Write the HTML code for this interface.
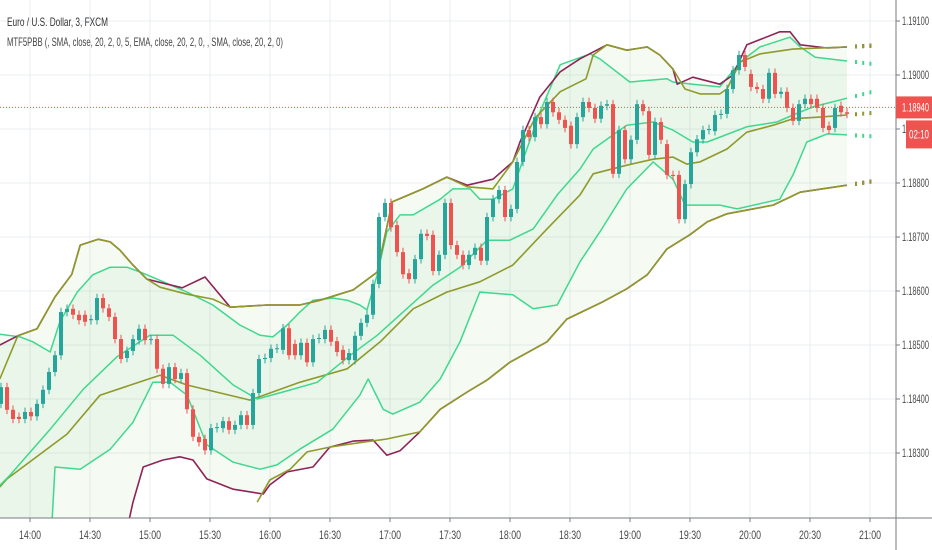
<!DOCTYPE html>
<html><head><meta charset="utf-8"><style>
html,body{margin:0;padding:0;background:#fff;width:932px;height:550px;overflow:hidden;}
svg{display:block;font-family:"Liberation Sans Narrow","Liberation Sans",sans-serif;}
</style></head><body>
<svg id="chart" width="932" height="550" xmlns="http://www.w3.org/2000/svg">
<rect width="932" height="550" fill="#ffffff"/>
<g id="grid"></g>
<g id="fills"></g>
<g id="bands"></g>
<g id="candles"></g>
<g id="axes"></g>
<text x="7" y="26" font-size="12" fill="#333" textLength="101" lengthAdjust="spacingAndGlyphs">Euro / U.S. Dollar, 3, FXCM</text>
<text x="7" y="46" font-size="12" fill="#444" textLength="276" lengthAdjust="spacingAndGlyphs">MTF5PBB (, SMA, close, 20, 2, 0, 5, EMA, close, 20, 2, 0, , SMA, close, 20, 2, 0)</text>
</svg>
<script>
const opens=[1.18391,1.18422,1.18380,1.18367,1.18363,1.18376,1.18368,1.18391,1.18417,1.18450,1.18481,1.18561,1.18567,1.18556,1.18556,1.18546,1.18546,1.18587,1.18568,1.18552,1.18511,1.18476,1.18489,1.18509,1.18530,1.18509,1.18511,1.18456,1.18428,1.18459,1.18437,1.18448,1.18381,1.18330,1.18326,1.18305,1.18346,1.18346,1.18359,1.18343,1.18352,1.18370,1.18352,1.18411,1.18474,1.18476,1.18493,1.18491,1.18531,1.18502,1.18481,1.18504,1.18468,1.18511,1.18511,1.18528,1.18507,1.18491,1.18472,1.18472,1.18517,1.18541,1.18556,1.18613,1.18737,1.18763,1.18722,1.18672,1.18633,1.18622,1.18659,1.18706,1.18704,1.18637,1.18667,1.18763,1.18685,1.18667,1.18648,1.18667,1.18680,1.18656,1.18737,1.18770,1.18787,1.18737,1.18752,1.18839,1.18898,1.18885,1.18922,1.18909,1.18950,1.18931,1.18917,1.18906,1.18872,1.18922,1.18950,1.18939,1.18919,1.18943,1.18946,1.18817,1.18898,1.18844,1.18880,1.18946,1.18933,1.18852,1.18913,1.18872,1.18815,1.18815,1.18733,1.18798,1.18857,1.18881,1.18898,1.18896,1.18926,1.18928,1.18974,1.19009,1.19037,1.19002,1.18978,1.18974,1.18956,1.19004,1.18965,1.18969,1.18939,1.18915,1.18946,1.18956,1.18956,1.18939,1.18906,1.18902,1.18943,1.18931];
const closes=[1.18422,1.18380,1.18363,1.18363,1.18376,1.18368,1.18391,1.18417,1.18450,1.18481,1.18561,1.18567,1.18556,1.18546,1.18543,1.18548,1.18587,1.18568,1.18552,1.18511,1.18474,1.18489,1.18511,1.18530,1.18509,1.18511,1.18456,1.18428,1.18459,1.18437,1.18448,1.18381,1.18330,1.18320,1.18305,1.18346,1.18348,1.18359,1.18343,1.18352,1.18370,1.18352,1.18411,1.18474,1.18476,1.18493,1.18494,1.18531,1.18481,1.18481,1.18504,1.18468,1.18511,1.18513,1.18528,1.18506,1.18487,1.18472,1.18485,1.18517,1.18541,1.18556,1.18613,1.18737,1.18763,1.18718,1.18672,1.18631,1.18622,1.18659,1.18706,1.18702,1.18637,1.18667,1.18763,1.18685,1.18667,1.18648,1.18667,1.18680,1.18656,1.18737,1.18770,1.18787,1.18737,1.18752,1.18839,1.18898,1.18885,1.18922,1.18909,1.18950,1.18931,1.18917,1.18902,1.18872,1.18922,1.18950,1.18939,1.18919,1.18943,1.18946,1.18817,1.18898,1.18844,1.18880,1.18946,1.18933,1.18852,1.18913,1.18880,1.18815,1.18813,1.18733,1.18798,1.18857,1.18881,1.18898,1.18900,1.18926,1.18928,1.18974,1.19009,1.19037,1.19015,1.18978,1.18974,1.18956,1.19004,1.18965,1.18969,1.18939,1.18915,1.18946,1.18956,1.18946,1.18939,1.18902,1.18898,1.18939,1.18931,1.18928];
const purpleUpper=[[0.8,1.18500],[3.8,1.18517],[7,1.18530],[10,1.18589],[12.8,1.18631],[14.2,1.18685],[17.2,1.18696],[19.2,1.18691],[20.8,1.18676],[23,1.18648],[25.3,1.18622],[31.2,1.18606],[35,1.18626],[39.2,1.18570],[45.3,1.18574],[50.8,1.18574],[54.2,1.18583],[59.7,1.18602],[63.7,1.18635],[66.2,1.18765],[71.3,1.18789],[75.3,1.18811],[78.7,1.18796],[83,1.18807],[86.3,1.18839],[87.5,1.18876],[90.8,1.18959],[94.2,1.19006],[97.5,1.19030],[102,1.19056],[105.3,1.19046],[108.7,1.19052],[110.8,1.19037],[113,1.19011],[113.7,1.18983],[116.3,1.18996],[120.8,1.18983],[123,1.19000],[125.3,1.19056],[130.8,1.19080],[132.5,1.19080],[134.2,1.19056],[138.7,1.19050],[142,1.19052]];
const purpleLower=[[20.8,1.18098],[23,1.18209],[24.7,1.18274],[28,1.18287],[30.8,1.18293],[33,1.18287],[35.3,1.18252],[39.7,1.18233],[44.7,1.18224],[45.8,1.18241],[48.7,1.18265],[53,1.18274],[55.8,1.18311],[59.7,1.18322],[63,1.18324],[65.3,1.18296],[67.5,1.18304],[70.8,1.18339],[74.2,1.18381],[78.7,1.18413],[82,1.18435],[85.8,1.18468],[92,1.18506],[95.3,1.18548],[101.3,1.18580],[105.3,1.18604],[108.7,1.18630],[112,1.18678],[115.8,1.18704],[118.7,1.18728],[122,1.18743],[129.7,1.18759],[134.2,1.18783],[142,1.18796]];
const oliveUpper=[[0.8,1.18437],[3.8,1.18517],[7,1.18530],[10,1.18589],[12.8,1.18631],[14.2,1.18685],[17.2,1.18696],[19.2,1.18691],[20.8,1.18676],[23,1.18648],[25.3,1.18622],[27.5,1.18607],[32,1.18594],[36.3,1.18585],[39.2,1.18570],[45.3,1.18574],[50.8,1.18574],[54.2,1.18583],[59.7,1.18602],[63.7,1.18635],[66.2,1.18765],[71.3,1.18789],[75.3,1.18811],[78.7,1.18793],[83,1.18789],[86.3,1.18839],[90,1.18920],[94.2,1.18969],[98.5,1.18993],[99.7,1.19037],[102,1.19056],[105.3,1.19046],[108.7,1.19052],[110.8,1.19037],[113,1.19011],[115,1.18974],[117.5,1.18965],[120.8,1.18965],[122,1.18974],[124.2,1.19024],[127.5,1.19039],[133,1.19048],[142,1.19052]];
const oliveLower=[[43.7,1.18209],[45.8,1.18250],[49.2,1.18270],[52,1.18302],[55.8,1.18311],[61.3,1.18320],[65.3,1.18326],[70.8,1.18339],[74.2,1.18381],[78.7,1.18413],[82,1.18435],[85.8,1.18468],[92,1.18506],[95.3,1.18548],[101.3,1.18580],[105.3,1.18604],[108.7,1.18630],[112,1.18678],[115.8,1.18704],[118.7,1.18728],[122,1.18743],[129.7,1.18759],[134.2,1.18783],[142,1.18796]];
const oliveBasis=[[0.8,1.18237],[2,1.18252],[12,1.18335],[17.5,1.18407],[27.5,1.18444],[32,1.18426],[42.5,1.18398],[50.8,1.18431],[58.7,1.18456],[64.2,1.18506],[69.7,1.18567],[75.3,1.18598],[80.8,1.18617],[86.3,1.18648],[92,1.18715],[97.5,1.18778],[99.7,1.18817],[105.3,1.18833],[109.7,1.18844],[113,1.18848],[115.3,1.18835],[117.5,1.18839],[122,1.18863],[125.3,1.18894],[129.7,1.18907],[133,1.18919],[137.5,1.18922],[142,1.18926]];
const greenUpper=[[0.8,1.18520],[4.2,1.18515],[6.3,1.18506],[9.2,1.18487],[10.8,1.18543],[13.7,1.18598],[16.3,1.18630],[19.2,1.18644],[22,1.18644],[24.2,1.18635],[27,1.18622],[32,1.18598],[36.3,1.18574],[40.8,1.18537],[44.2,1.18518],[46.3,1.18515],[48.7,1.18537],[50.8,1.18561],[53,1.18583],[56.3,1.18587],[58.7,1.18583],[60.8,1.18574],[62,1.18565],[63.7,1.18630],[65.3,1.18709],[67.5,1.18741],[69.7,1.18741],[74.2,1.18770],[76.3,1.18789],[79.2,1.18789],[80.8,1.18770],[83,1.18770],[86.3,1.18789],[90.8,1.18931],[94.2,1.19019],[99.2,1.19039],[100.8,1.19030],[105.8,1.18987],[112,1.18993],[113,1.18987],[116.3,1.18983],[120.8,1.18978],[124.2,1.19024],[127.5,1.19052],[132.5,1.19070],[134.2,1.19052],[136.7,1.19033],[142,1.19026]];
const greenBasis=[[0.8,1.18240],[2.5,1.18259],[9.2,1.18344],[14.7,1.18418],[20.3,1.18478],[25.8,1.18518],[29.7,1.18518],[34.2,1.18481],[39.7,1.18426],[43.7,1.18400],[48,1.18413],[53.7,1.18431],[59.2,1.18481],[63.7,1.18518],[67.5,1.18556],[73,1.18611],[77.5,1.18644],[82,1.18694],[85.8,1.18694],[89.7,1.18715],[93.7,1.18778],[97.5,1.18826],[99.7,1.18863],[105.3,1.18907],[109.7,1.18913],[113,1.18898],[116.3,1.18876],[118.7,1.18876],[125.3,1.18904],[130.3,1.18913],[133,1.18926],[136.3,1.18941],[142,1.18957]];
const greenLower=[[9.5,1.18172],[10,1.18274],[14.2,1.18270],[19.2,1.18307],[23,1.18357],[26.3,1.18431],[29.2,1.18431],[32,1.18407],[35.3,1.18315],[39.7,1.18283],[44.2,1.18270],[47,1.18278],[50.8,1.18307],[56.3,1.18344],[60.8,1.18407],[62.2,1.18437],[64.7,1.18381],[66.3,1.18372],[70.8,1.18394],[74.2,1.18437],[77.5,1.18506],[80.8,1.18598],[86.3,1.18593],[89.7,1.18567],[93.7,1.18574],[97.5,1.18654],[100.8,1.18709],[105.3,1.18789],[109.7,1.18839],[113,1.18807],[115,1.18759],[120.8,1.18759],[123.7,1.18752],[130.8,1.18770],[133,1.18815],[135.3,1.18876],[138.7,1.18891],[142,1.18889]];
const priceTicks=[1.191,1.190,1.189,1.188,1.187,1.186,1.185,1.184,1.183];
const timeLabels=["14:00","14:30","15:00","15:30","16:00","16:30","17:00","17:30","18:00","18:30","19:00","19:30","20:00","20:30","21:00"];
const lastPrice=1.18940;

const NS="http://www.w3.org/2000/svg";
const PLOT_R=896, PLOT_B=518;
function xScale(k){return 6*k-5;}
function yScale(p){return 75+(1.19-p)*54000;}
function mk(tag,attrs,parent){const e=document.createElementNS(NS,tag);for(const a in attrs)e.setAttribute(a,attrs[a]);parent.appendChild(e);return e;}
const grid=document.getElementById('grid'),fills=document.getElementById('fills'),bandsG=document.getElementById('bands'),candG=document.getElementById('candles'),axes=document.getElementById('axes');

const defs=mk('defs',{},document.getElementById('chart'));
const cp=mk('clipPath',{id:'plotclip'},defs);mk('rect',{x:0,y:0,width:PLOT_R,height:PLOT_B},cp);
fills.setAttribute('clip-path','url(#plotclip)');bandsG.setAttribute('clip-path','url(#plotclip)');

priceTicks.forEach(p=>{const l=mk('line',{x1:0,x2:PLOT_R,y1:yScale(p),y2:yScale(p),stroke:'#e9edf2','stroke-width':1},grid);

});
timeLabels.forEach((t,i)=>{const x=xScale(5.83+10*i);const l=mk('line',{x1:x,x2:x,y1:0,y2:PLOT_B,stroke:'#e9edf2','stroke-width':1},grid);

});

function pts(arr){return arr.map(d=>xScale(d[0]).toFixed(1)+','+yScale(d[1]).toFixed(1));}
function fillBetween(up,lo,color,name){const a=pts(up),b=pts(lo).reverse();
const p=mk('polygon',{points:a.concat(b).join(' '),fill:color},fills);

}
fillBetween(purpleUpper,[[0.8,1.1800]].concat(purpleLower),'rgba(120,190,90,0.07)','outer-band-fill');
fillBetween(greenUpper,[[0.8,1.1810],[9.5,1.1810]].concat(greenLower),'rgba(90,200,110,0.07)','inner-band-fill');

function line(arr,color,w,name){const l=mk('polyline',{points:pts(arr).join(' '),fill:'none',stroke:color,'stroke-width':w,'stroke-linejoin':'round'},bandsG);


const n=arr.length,a=arr[n-2],b=arr[n-1],s=(b[1]-a[1])/(b[0]-a[0]);
[1.5,2.7,3.9].forEach(dk=>{const k=b[0]+dk,p=b[1]+s*dk;const d=mk('rect',{x:xScale(k)-1,y:yScale(p)-2,width:2,height:4,fill:color},bandsG);

});}
line(oliveBasis,'#8f9a2a',1.6,'olive-basis-line');
line(greenLower,'#3fd88e',1.5,'green-lower-band');
line(greenBasis,'#3fd88e',1.5,'green-basis-line');
line(greenUpper,'#3fd88e',1.5,'green-upper-band');
line(purpleLower,'#8e2457',1.6,'purple-lower-band');
line(purpleUpper,'#8e2457',1.6,'purple-upper-band');
line(oliveLower,'#8f9a2a',1.6,'olive-lower-band');
line(oliveUpper,'#8f9a2a',1.6,'olive-upper-band');

opens.forEach((o,i)=>{const c=closes[i],k=i+1,x=xScale(k);const up=c>=o;const col=up?'#26a69a':'#ef5350';
const hi=Math.max(o,c)+0.00008,lo=Math.min(o,c)-0.00008;
const w=mk('line',{x1:x,x2:x,y1:yScale(hi),y2:yScale(lo),stroke:col,'stroke-width':1},candG);


const top=yScale(Math.max(o,c)),h=Math.max(1,yScale(Math.min(o,c))-top);
const r=mk('rect',{x:x-2,y:top,width:4,height:h,fill:col},candG);

});

const ly=yScale(lastPrice);
const pl=mk('line',{x1:0,x2:PLOT_R,y1:ly,y2:ly,stroke:'#ef5350','stroke-width':1,'stroke-dasharray':'1,2'},axes);



const ya=mk('line',{x1:PLOT_R,x2:PLOT_R,y1:0,y2:550,stroke:'#787b86','stroke-width':1},axes);


const xa=mk('line',{x1:0,x2:932,y1:PLOT_B,y2:PLOT_B,stroke:'#787b86','stroke-width':1},axes);


priceTicks.forEach(p=>{const y=yScale(p);
const t=mk('line',{x1:PLOT_R,x2:PLOT_R+4,y1:y,y2:y,stroke:'#787b86'},axes);


const tx=mk('text',{x:902,y:y+4,'font-size':12,fill:'#4a4a4a',textLength:27,lengthAdjust:'spacingAndGlyphs'},axes);tx.textContent=p.toFixed(5);

});
timeLabels.forEach((lab,i)=>{const x=xScale(5.83+10*i);
const t=mk('line',{x1:x,x2:x,y1:PLOT_B,y2:PLOT_B+4,stroke:'#787b86'},axes);


const tx=mk('text',{x:x-11,y:539,'font-size':12,fill:'#4a4a4a',textLength:22,lengthAdjust:'spacingAndGlyphs'},axes);tx.textContent=lab;

});
const bg=mk('rect',{x:PLOT_R,y:ly-11,width:36,height:22,fill:'#ef5350'},axes);


const bt=mk('text',{x:902,y:ly+4,'font-size':12,fill:'#fff',textLength:27,lengthAdjust:'spacingAndGlyphs'},axes);bt.textContent=lastPrice.toFixed(5);


const cb=mk('rect',{x:906,y:ly+13,width:26,height:28,fill:'#ef5350'},axes);


const ct=mk('text',{x:909,y:ly+31,'font-size':12,fill:'#fff',textLength:20,lengthAdjust:'spacingAndGlyphs'},axes);ct.textContent='02:10';


</script>
</body></html>
